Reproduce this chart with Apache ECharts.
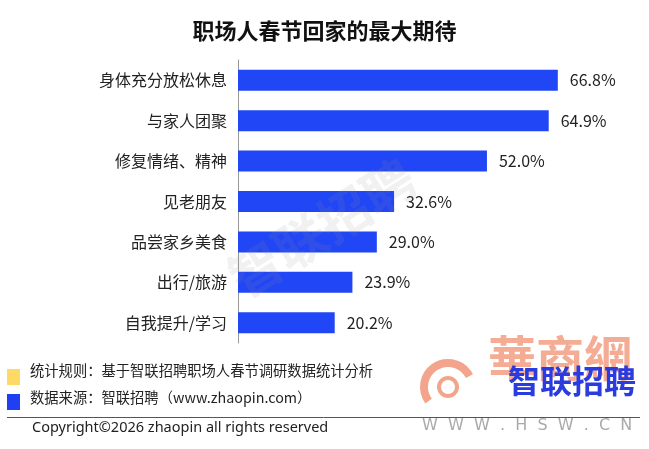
<!DOCTYPE html>
<html><head><meta charset="utf-8">
<script src="https://cdn.jsdelivr.net/npm/echarts@6/dist/echarts.min.js"></script>
<style>html,body{margin:0;padding:0;background:#fff}#c{width:649px;height:449px}</style>
</head><body><div id="c"></div>
<script>
const categories = ['身体充分放松休息','与家人团聚','修复情绪、精神','见老朋友','品尝家乡美食','出行/旅游','自我提升/学习'];
const values = [66.8, 64.9, 52.0, 32.6, 29.0, 23.9, 20.2];
const title = '职场人春节回家的最大期待';
const notes = ['统计规则：基于智联招聘职场人春节调研数据统计分析','数据来源：智联招聘（www.zhaopin.com）'];
const copyright = 'Copyright©2026 zhaopin all rights reserved';

const chart = echarts.init(document.getElementById('c'));
const F = '"Noto Sans CJK SC","Noto Sans",sans-serif';
chart.setOption({
  animation:false,
  title:{text:title,left:'center',top:15,textStyle:{fontFamily:F,fontSize:22,fontWeight:'bold',color:'#111'}},
  grid:{left:238,top:60,width:383,height:283},
  xAxis:{type:'value',min:0,max:80,show:false},
  yAxis:{type:'category',data:categories,inverse:true,
    axisLine:{lineStyle:{color:'#999',width:1}},
    axisTick:{length:5,lineStyle:{color:'#999'}},
    axisLabel:{fontFamily:F,fontSize:16,color:'#222',margin:11}},
  series:[{type:'bar',data:values,barWidth:21,
    itemStyle:{color:'#2146F5'},
    label:{show:true,position:'right',distance:12,fontFamily:F,fontSize:16,color:'#222',
      formatter:p=>p.value.toFixed(1)+'%'}}],
  graphic:[
    {type:'text',x:322,y:228,rotation:Math.PI*32/180,z:10,silent:true,
     style:{text:'智联招聘',font:'bold 52px "Noto Sans CJK SC"',fill:'rgba(150,150,150,0.13)',textAlign:'center',textVerticalAlign:'middle'}},
    {type:'rect',shape:{x:7,y:369,width:13,height:16},style:{fill:'#FFD966'}},
    {type:'rect',shape:{x:7,y:394,width:13,height:16},style:{fill:'#1E40F2'}},
    {type:'text',x:30,y:371,style:{text:notes[0],font:'14.3px "Noto Sans CJK SC"',fill:'#222',textVerticalAlign:'middle'}},
    {type:'text',x:30,y:398,style:{text:notes[1],font:'14.3px "Noto Sans CJK SC"',fill:'#222',textVerticalAlign:'middle'}},
    {type:'line',shape:{x1:7,y1:417.5,x2:640,y2:417.5},style:{stroke:'#555',lineWidth:1}},
    {type:'text',x:32,y:428,style:{text:copyright,font:'14.5px "Noto Sans","DejaVu Sans"',fill:'#222',textVerticalAlign:'middle'}},
    // logo
    {type:'arc',shape:{cx:448,cy:387,r:24,startAngle:Math.PI*0.8,endAngle:Math.PI*1.85},style:{stroke:'#F2A58C',lineWidth:8,fill:null}},
    {type:'circle',shape:{cx:448,cy:387,r:9},style:{stroke:'#F2A58C',lineWidth:4,fill:'#fff'}},
    {type:'text',x:488,y:334,style:{text:'華商網',font:'bold 48px "Noto Sans CJK SC"',fill:'#F4AC94'}},
    {type:'text',x:508,y:365,z:20,style:{text:'智联招聘',font:'bold 32px "Noto Sans CJK SC"',fill:'#2A3BE0'}},
    {type:'text',x:422,y:426,z:20,style:{text:'W  W  W  .  H  S  W  .  C  N',font:'16px "DejaVu Sans"',fill:'#aaa',textVerticalAlign:'middle'}}
  ]
});
</script></body></html>
